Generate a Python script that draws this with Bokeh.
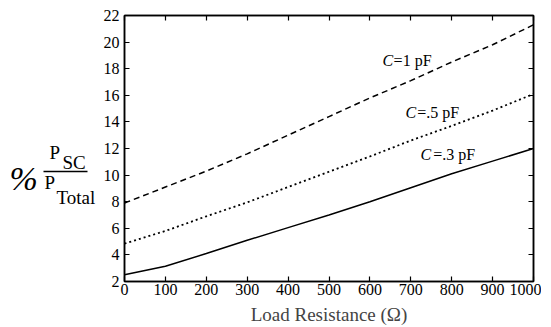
from bokeh.plotting import figure
from bokeh.layouts import row
from bokeh.models import (Range1d, LinearAxis, Label, FixedTicker,
                          CustomJSTickFormatter)
from bokeh.core.properties import value
from bokeh.embed import file_html
from bokeh.resources import INLINE

# ---- data ----
resistance = [0, 100, 200, 300, 400, 500, 600, 700, 800, 900, 1000]
pct_c1pF = [7.9, 9.1, 10.3, 11.6, 13.0, 14.4, 15.8, 17.1, 18.5, 19.8, 21.3]
pct_c05pF = [4.85, 5.8, 6.9, 7.95, 9.1, 10.25, 11.4, 12.6, 13.7, 14.85, 16.1]
pct_c03pF = [2.5, 3.15, 4.1, 5.1, 6.05, 7.0, 8.0, 9.05, 10.1, 11.05, 12.0]
x_ticks = [0, 100, 200, 300, 400, 500, 600, 700, 800, 900, 1000]
y_ticks = [2, 4, 6, 8, 10, 12, 14, 16, 18, 20, 22]
curve_names = ["=1 pF", "=.5 pF", "=.3 pF"]
x_title = "Load Resistance (\u03a9)"
y_title_parts = ["%", "P", "SC", "P", "Total"]

FONT = "Liberation Serif"
LEFT_W = 98
TOP, FRAME_H, BOTTOM = 15, 266, 60

# ---------------- main chart ----------------
p = figure(frame_width=409, frame_height=FRAME_H, output_backend="svg",
           toolbar_location=None,
           x_range=Range1d(0, 1000), y_range=Range1d(2, 22),
           min_border_left=124 - LEFT_W, min_border_right=8, min_border_top=TOP,
           min_border_bottom=BOTTOM, x_axis_location=None, y_axis_location=None)
p.xgrid.visible = False
p.ygrid.visible = False
p.outline_line_color = "black"
p.outline_line_width = 1.5
p.background_fill_color = "white"
p.border_fill_color = "white"

def style_axis(ax, ticks, labels=True):
    ax.ticker = FixedTicker(ticks=ticks)
    ax.major_tick_in = 5
    ax.major_tick_out = 0
    ax.minor_tick_line_color = None
    ax.axis_line_color = "black"
    ax.axis_line_width = 1.5
    ax.major_tick_line_color = "black"
    ax.major_tick_line_width = 1.2
    ax.major_label_text_font = FONT
    ax.major_label_text_font_size = "16px"
    ax.major_label_text_color = "black"
    if not labels:
        ax.formatter = CustomJSTickFormatter(code="return ''")

xb = LinearAxis()
style_axis(xb, x_ticks)
xb.major_label_standoff = 2
xb.axis_label = x_title
xb.axis_label_text_font = FONT
xb.axis_label_text_font_style = "normal"
xb.axis_label_text_font_size = "19px"
xb.axis_label_standoff = 6
p.add_layout(xb, "below")

yl = LinearAxis()
style_axis(yl, y_ticks)
yl.major_label_standoff = 5
p.add_layout(yl, "left")

xt = LinearAxis()
style_axis(xt, x_ticks, labels=False)
p.add_layout(xt, "above")

yr = LinearAxis()
style_axis(yr, y_ticks, labels=False)
p.add_layout(yr, "right")

# curves
p.line(resistance, pct_c1pF, line_color="black", line_width=1.5, line_dash="6 4")
p.line(resistance, pct_c05pF, line_color="black", line_width=1.8, line_dash="2 3")
p.line(resistance, pct_c03pF, line_color="black", line_width=1.5)

# curve labels
lab_pos = [(631, 658, 18.6), (687, 716, 14.7), (724, 755, 11.55)]
for name, (xc, xr, yv) in zip(curve_names, lab_pos):
    p.add_layout(Label(x=xc, y=yv, text="C", text_font=FONT, text_font_size="16px",
                       text_font_style="italic", text_baseline="middle",
                       text_align="left", text_color="black"))
    p.add_layout(Label(x=xr, y=yv, text=name, text_font=FONT, text_font_size="16px",
                       text_baseline="middle", text_align="left", text_color="black"))

# ---------------- left panel: y title  % P_SC / P_Total ----------------
# same vertical structure as the main chart, so its frame lines up with it;
# its y range is in page pixels (top = TOP, bottom = TOP + FRAME_H)
q = figure(frame_width=LEFT_W, frame_height=FRAME_H, output_backend="svg",
           toolbar_location=None,
           x_range=Range1d(0, LEFT_W), y_range=Range1d(TOP + FRAME_H, TOP),
           min_border_left=0, min_border_right=0, min_border_top=TOP,
           min_border_bottom=BOTTOM, x_axis_location=None, y_axis_location=None)
q.xgrid.visible = False
q.ygrid.visible = False
q.outline_line_color = None
q.background_fill_color = "white"
q.border_fill_color = "white"

title_x = [9, 49, 62, 44, 56]
title_y = [178, 152, 162, 182, 197]
title_size = ["34px", "19px", "19px", "19px", "19px"]
title_style = ["italic", "normal", "normal", "normal", "normal"]
for t, xx, yy, sz, st in zip(y_title_parts, title_x, title_y, title_size, title_style):
    q.text(x=[xx], y=[yy], text=[t], text_font=value(FONT), text_font_size=sz,
           text_font_style=st, text_baseline="middle", text_align="left",
           text_color="black")
q.segment(x0=[43], y0=[171], x1=[87], y1=[171], line_color="black", line_width=1.3)

layout = row(q, p, spacing=0)
open("out.html", "w").write(file_html(layout, INLINE))
